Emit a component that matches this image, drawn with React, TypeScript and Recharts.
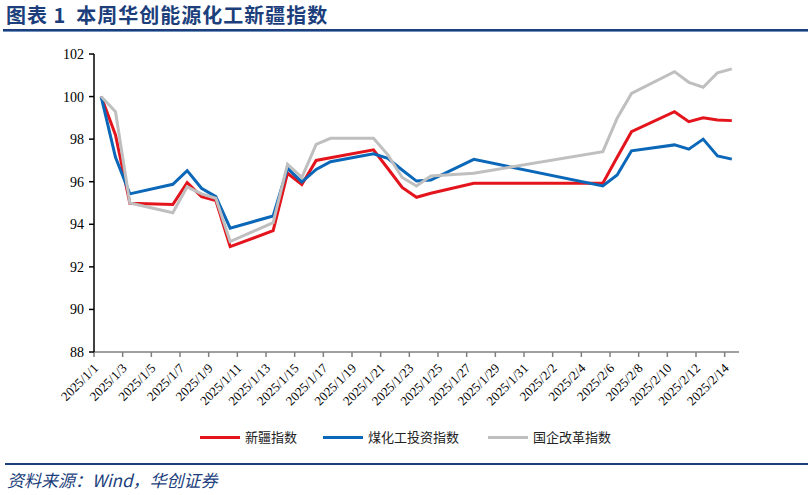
import { Line, LineChart, XAxis, YAxis } from 'recharts'

const dates = [
  '2025/1/1', '2025/1/2', '2025/1/3', '2025/1/6', '2025/1/7', '2025/1/8', '2025/1/9',
  '2025/1/10', '2025/1/13', '2025/1/14', '2025/1/15', '2025/1/16', '2025/1/17', '2025/1/20',
  '2025/1/21', '2025/1/22', '2025/1/23', '2025/1/24', '2025/1/27', '2025/2/5', '2025/2/6',
  '2025/2/7', '2025/2/10', '2025/2/11', '2025/2/12', '2025/2/13', '2025/2/14',
]

const xinjiang = [
  100, 98.2, 94.99, 94.93, 95.96, 95.3, 95.11, 92.95, 93.7, 96.4, 95.87, 97.0, 97.13, 97.5,
  96.62, 95.73, 95.27, 95.46, 95.93, 95.93, 97.15, 98.35, 99.29, 98.82, 99.0, 98.9, 98.87,
]

const coalChem = [
  100, 97.15, 95.43, 95.88, 96.52, 95.69, 95.3, 93.82, 94.39, 96.63, 95.99, 96.58, 96.94, 97.31,
  97.1, 96.55, 96.03, 96.08, 97.05, 95.8, 96.32, 97.45, 97.73, 97.53, 98.0, 97.21, 97.06,
]

const soeReform = [
  100, 99.29, 95.0, 94.54, 95.76, 95.43, 95.22, 93.19, 94.08, 96.82, 96.2, 97.75, 98.04, 98.04,
  97.26, 96.2, 95.8, 96.27, 96.4, 97.41, 98.98, 100.15, 101.17, 100.67, 100.44, 101.12, 101.3,
]

const xTickLabels = [
  '2025/1/1', '2025/1/3', '2025/1/5', '2025/1/7', '2025/1/9', '2025/1/11', '2025/1/13',
  '2025/1/15', '2025/1/17', '2025/1/19', '2025/1/21', '2025/1/23', '2025/1/25', '2025/1/27',
  '2025/1/29', '2025/1/31', '2025/2/2', '2025/2/4', '2025/2/6', '2025/2/8', '2025/2/10',
  '2025/2/12', '2025/2/14',
]

const yTicks = [88, 90, 92, 94, 96, 98, 100, 102]

const seriesNames = ['新疆指数', '煤化工投资指数', '国企改革指数']
const seriesColors = ['#e3141c', '#0b67b8', '#bfbfbf']

const navy = '#1c3f7c'

function dayOffset(label: string): number {
  const [y, m, d] = label.split('/').map(Number)
  return Math.round((Date.UTC(y, m - 1, d) - Date.UTC(2025, 0, 1)) / 86400000)
}

const chartData = dates.map((date, i) => ({
  day: dayOffset(date) + 0.5,
  date,
  xinjiang: xinjiang[i],
  coalChem: coalChem[i],
  soeReform: soeReform[i],
}))

const xTicks = xTickLabels.map(dayOffset)

function DateTick({ x, y, payload }: { x?: number; y?: number; payload?: { value: number } }) {
  const idx = xTicks.indexOf(payload?.value ?? -1)
  const label = idx >= 0 ? xTickLabels[idx] : ''
  const tx = (x ?? 0) + 5
  const ty = (y ?? 0) + 10
  return (
    <text
      x={tx}
      y={ty}
      transform={`rotate(-45 ${tx} ${ty})`}
      textAnchor="end"
      fontSize={13}
      fontFamily="'Liberation Serif', serif"
      fill="#000"
    >
      {label}
    </text>
  )
}

function LegendRow() {
  const items = [
    { left: 200, textLeft: 245 },
    { left: 323, textLeft: 368 },
    { left: 488, textLeft: 533 },
  ]
  return (
    <>
      {items.map((item, i) => (
        <div key={seriesNames[i]}>
          <div
            style={{
              position: 'absolute',
              left: item.left,
              top: 436,
              width: 40,
              height: 3,
              background: seriesColors[i],
            }}
          />
          <div
            style={{
              position: 'absolute',
              left: item.textLeft,
              top: 428,
              fontSize: 13,
              lineHeight: '18px',
              fontFamily: "'Noto Sans CJK SC', sans-serif",
              color: '#222',
              whiteSpace: 'nowrap',
            }}
          >
            {seriesNames[i]}
          </div>
        </div>
      ))}
    </>
  )
}

export default function App() {
  return (
    <div
      style={{
        position: 'absolute',
        left: 0,
        top: 0,
        width: 811,
        height: 495,
        background: '#fff',
        overflow: 'hidden',
      }}
    >
      <div
        style={{
          position: 'absolute',
          left: 6,
          top: 2,
          fontSize: 20,
          lineHeight: '26px',
          fontWeight: 700,
          letterSpacing: 1,
          color: navy,
          fontFamily: "'Noto Sans CJK SC', sans-serif",
          whiteSpace: 'nowrap',
        }}
      >
        图表 1<span style={{ marginLeft: 10 }}>本周华创能源化工新疆指数</span>
      </div>
      <div style={{ position: 'absolute', left: 3, top: 29, width: 805, height: 2, background: navy }} />
      <div style={{ position: 'absolute', left: 3, top: 31, width: 805, height: 1, background: '#6f8fbf' }} />

      <div style={{ position: 'absolute', left: 0, top: 0 }}>
        <LineChart
          width={811}
          height={420}
          data={chartData}
          margin={{ top: 54, right: 72, bottom: 8, left: 54 }}
        >
          <XAxis
            dataKey="day"
            type="number"
            domain={[0, 45]}
            ticks={xTicks}
            interval={0}
            height={60}
            axisLine={{ stroke: '#808080', strokeWidth: 1.5 }}
            tickLine={{ stroke: '#808080', strokeWidth: 1.5 }}
            tickSize={5}
            tick={<DateTick />}
            allowDataOverflow
          />
          <YAxis
            type="number"
            domain={[88, 102]}
            ticks={yTicks}
            interval={0}
            width={40}
            axisLine={{ stroke: '#000', strokeWidth: 1.5 }}
            tickLine={{ stroke: '#000', strokeWidth: 1.5 }}
            tickSize={5}
            tickMargin={5}
            tick={{ fontSize: 14, fill: '#000', fontFamily: "'Liberation Serif', serif" }}
            allowDataOverflow
          />
          <Line
            type="linear"
            dataKey="xinjiang"
            name={seriesNames[0]}
            stroke={seriesColors[0]}
            strokeWidth={3}
            dot={false}
            isAnimationActive={false}
          />
          <Line
            type="linear"
            dataKey="coalChem"
            name={seriesNames[1]}
            stroke={seriesColors[1]}
            strokeWidth={3}
            dot={false}
            isAnimationActive={false}
          />
          <Line
            type="linear"
            dataKey="soeReform"
            name={seriesNames[2]}
            stroke={seriesColors[2]}
            strokeWidth={3}
            dot={false}
            isAnimationActive={false}
          />
        </LineChart>
      </div>

      <LegendRow />

      <div style={{ position: 'absolute', left: 5, top: 463, width: 803, height: 2, background: navy }} />
      <div
        style={{
          position: 'absolute',
          left: 7,
          top: 469,
          fontSize: 17,
          lineHeight: '22px',
          fontStyle: 'italic',
          color: navy,
          fontFamily: "'Noto Sans CJK SC', sans-serif",
          whiteSpace: 'nowrap',
        }}
      >
        资料来源：Wind，华创证券
      </div>
    </div>
  )
}
